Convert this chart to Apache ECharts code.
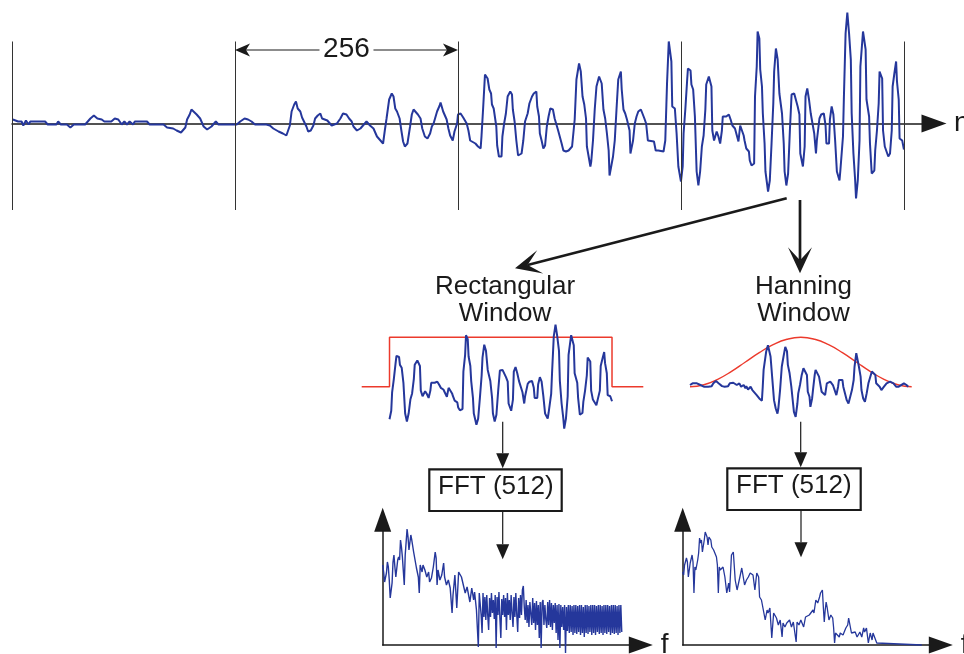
<!DOCTYPE html>
<html>
<head>
<meta charset="utf-8">
<script src="https://cdn.jsdelivr.net/npm/echarts@6/dist/echarts.min.js"></script>
<style>
  html, body { margin: 0; padding: 0; background: #ffffff; }
  #chart { width: 964px; height: 654px; }
</style>
</head>
<body>
<div id="chart"></div>
<script>
// Frame boundaries of the 1024-sample record (256 samples per frame)
const frameEdges = [0, 256, 512, 768, 1024];
const frameLength = 256;
const analysedFrame = [768, 1024];

// Speech-like record x[n]: [sample index, amplitude]
const signal = [
  [1,0.04],[3,0.05],[7,0.02],[11,0.02],[13,-0.02],[16,0.03],[19,-0.01],[21,0.02],[38,0.02],[41,-0.01],
  [51,-0.01],[53,0.02],[56,-0.01],[63,-0.01],[67,-0.04],[71,-0.01],[84,-0.01],[90,0.05],[94,0.08],[98,0.05],
  [103,0.04],[106,0.02],[114,0.02],[118,0.05],[122,0.04],[126,-0.01],[129,0.02],[132,-0.01],[135,0.02],[139,-0.01],
  [141,0.02],[155,0.02],[158,-0.01],[174,-0.01],[178,-0.04],[185,-0.05],[189,-0.07],[194,-0.09],[199,-0.04],[201,0.04],
  [204,0.09],[206,0.14],[212,0.09],[216,0.05],[220,-0.03],[224,-0.06],[229,-0.03],[234,0.02],[237,-0.01],[254,-0.01],
  [256,-0.03],[258,-0.01],[262,0.02],[267,0.05],[271,0.04],[275,0.02],[279,-0.01],[292,-0.01],[296,-0.02],[300,-0.05],
  [306,-0.08],[311,-0.10],[315,-0.12],[317,-0.07],[319,-0.02],[321,0.12],[324,0.19],[326,0.22],[328,0.15],[331,0.12],
  [333,0.06],[335,0.05],[338,-0.03],[340,-0.08],[343,-0.07],[346,-0.02],[348,0.05],[351,0.08],[354,0.10],[356,0.05],
  [359,0.04],[362,0.03],[367,-0.02],[369,-0.03],[373,0.00],[377,0.05],[380,0.10],[384,0.09],[387,0.05],[390,0.02],
  [392,-0.03],[396,-0.07],[400,-0.05],[403,-0.02],[407,0.02],[411,-0.02],[415,-0.05],[419,-0.13],[423,-0.17],[426,-0.20],
  [428,-0.07],[430,0.05],[433,0.24],[436,0.30],[438,0.27],[440,0.15],[442,0.12],[445,0.05],[447,-0.07],[449,-0.18],
  [451,-0.23],[454,-0.20],[457,-0.03],[459,0.09],[461,0.14],[463,0.12],[466,0.09],[469,0.05],[471,-0.05],[474,-0.13],
  [477,-0.15],[480,-0.10],[482,-0.03],[484,0.00],[488,0.12],[491,0.18],[492,0.21],[495,0.12],[499,0.04],[501,-0.05],
  [503,-0.12],[506,-0.17],[508,-0.08],[511,0.00],[512,0.09],[515,0.10],[518,0.06],[520,0.04],[522,0.00],[524,-0.07],
  [526,-0.17],[528,-0.19],[532,-0.20],[535,-0.23],[538,-0.25],[539,-0.13],[541,0.17],[543,0.49],[546,0.45],[548,0.34],
  [550,0.30],[551,0.19],[553,0.15],[556,-0.03],[557,-0.22],[559,-0.33],[562,-0.33],[563,-0.13],[565,0.00],[567,0.10],
  [569,0.27],[572,0.32],[574,0.29],[575,0.14],[577,0.02],[579,-0.17],[581,-0.32],[583,-0.33],[585,-0.30],[587,-0.17],
  [589,0.02],[592,0.10],[594,0.20],[597,0.27],[599,0.30],[602,0.32],[603,0.17],[605,0.07],[606,-0.10],[608,-0.17],
  [610,-0.25],[612,-0.22],[614,-0.03],[616,0.07],[618,0.15],[621,0.14],[623,0.05],[625,0.05],[627,-0.07],[629,-0.08],
  [631,-0.20],[633,-0.27],[636,-0.28],[639,-0.27],[643,-0.23],[646,0.04],[648,0.44],[651,0.60],[653,0.52],[655,0.27],
  [657,0.19],[659,0.05],[660,-0.23],[664,-0.43],[665,-0.38],[667,-0.17],[669,0.14],[671,0.37],[674,0.47],[677,0.40],
  [679,0.14],[681,0.05],[683,-0.10],[685,-0.27],[686,-0.52],[688,-0.53],[690,-0.33],[692,-0.17],[694,0.14],[696,0.44],
  [699,0.52],[700,0.34],[702,0.14],[704,0.10],[706,0.04],[709,-0.07],[710,-0.30],[712,-0.30],[713,-0.17],[715,0.00],
  [717,0.07],[719,0.12],[722,0.14],[724,0.15],[726,0.05],[728,0.00],[730,-0.17],[732,-0.17],[737,-0.18],[739,-0.27],
  [742,-0.27],[744,-0.25],[748,-0.28],[750,-0.17],[752,0.40],[754,0.82],[757,0.62],[758,0.17],[761,0.15],[763,-0.10],
  [765,-0.43],[768,-0.58],[770,-0.43],[771,-0.10],[773,0.14],[775,0.42],[776,0.55],[779,0.53],[780,0.39],[782,0.34],
  [784,0.07],[786,-0.48],[788,-0.62],[790,-0.48],[792,-0.23],[794,-0.12],[796,0.14],[797,0.39],[800,0.47],[803,0.37],
  [804,-0.07],[805,-0.12],[806,-0.17],[809,-0.08],[811,-0.13],[813,-0.20],[815,-0.07],[816,0.07],[818,0.09],[820,0.07],
  [821,0.05],[823,0.09],[825,0.04],[827,-0.02],[829,0.00],[830,-0.05],[832,-0.07],[834,-0.18],[836,-0.02],[838,-0.02],
  [840,-0.12],[841,-0.17],[843,-0.25],[846,-0.28],[847,-0.37],[849,-0.42],[852,-0.40],[853,0.27],[855,0.57],[856,0.92],
  [858,0.85],[859,0.54],[861,0.37],[862,0.10],[864,-0.20],[865,-0.48],[868,-0.68],[870,-0.57],[872,-0.20],[874,0.20],
  [875,0.52],[877,0.75],[879,0.64],[881,0.30],[884,0.10],[886,-0.20],[887,-0.48],[889,-0.62],[891,-0.50],[893,-0.08],
  [895,0.29],[898,0.30],[900,0.32],[902,0.17],[904,0.09],[905,-0.30],[908,-0.43],[910,-0.23],[911,0.27],[913,0.35],
  [915,0.24],[917,0.10],[919,0.09],[921,-0.10],[923,-0.30],[924,-0.17],[927,0.05],[929,0.09],[932,0.10],[934,-0.02],
  [935,-0.20],[938,-0.20],[939,0.04],[941,0.17],[943,0.09],[945,-0.17],[947,-0.48],[950,-0.57],[951,-0.47],[954,-0.13],
  [955,0.24],[957,0.90],[959,1.11],[961,0.90],[963,0.64],[964,0.10],[966,-0.30],[968,-0.57],[969,-0.75],[971,-0.57],
  [973,-0.17],[974,0.57],[977,0.92],[980,0.74],[981,0.24],[984,0.07],[985,-0.20],[987,-0.50],[990,-0.47],[991,-0.27],
  [993,-0.07],[995,0.20],[996,0.52],[999,0.45],[1000,-0.07],[1002,-0.23],[1004,-0.25],[1006,-0.33],[1008,-0.30],[1010,-0.07],
  [1011,0.37],[1013,0.50],[1015,0.62],[1016,0.42],[1018,0.24],[1019,-0.15],[1022,-0.17],[1024,-0.26]
];

// Last frame after Hanning weighting: [sample index, amplitude]
const hannFrame = [
  [768,0.03],[771,0.06],[776,0.06],[780,0.03],[781,0.01],[784,0],[789,0],[793,0.01],[795,0.06],[798,0.10],
  [801,0.06],[805,0.01],[808,0],[812,0.01],[814,0.06],[818,0.07],[822,0.03],[825,0.06],[827,0],[830,0.03],
  [832,-0.03],[833,0.01],[835,-0.05],[838,0],[840,-0.06],[842,-0.09],[845,-0.15],[848,-0.21],[851,-0.25],[852,0],
  [853,0.30],[856,0.63],[858,0.74],[860,0.71],[861,0.54],[863,0.15],[865,-0.24],[867,-0.39],[869,-0.48],[870,-0.39],
  [872,-0.06],[874,0.36],[876,0.54],[878,0.71],[880,0.63],[881,0.39],[883,0.24],[885,0],[887,-0.30],[888,-0.45],
  [890,-0.54],[892,-0.30],[893,-0.12],[895,0.03],[897,0.21],[899,0.33],[901,0.30],[903,0.21],[904,-0.09],[906,-0.18],
  [907,-0.36],[909,-0.21],[910,-0.06],[912,0.21],[913,0.30],[915,0.27],[917,0.18],[918,0.15],[920,-0.09],[922,-0.12],
  [924,-0.15],[926,0.06],[928,0.09],[930,0.09],[932,0.06],[933,0.03],[935,0],[937,-0.15],[939,0],[940,0.12],
  [942,0.15],[944,0.12],[945,0],[947,-0.12],[949,-0.24],[951,-0.30],[953,-0.27],[955,-0.06],[957,0.12],[958,0.36],
  [960,0.60],[962,0.60],[963,0.36],[965,0.18],[966,-0.06],[968,-0.21],[970,-0.27],[972,-0.12],[974,0.06],[976,0.09],
  [978,0.27],[980,0.30],[982,0.21],[983,0.06],[987,0],[989,-0.06],[992,0],[995,0.06],[999,0.09],[1003,0.06],
  [1006,0],[1009,0],[1011,0.03],[1015,0.06],[1018,0.03],[1020,0]
];

// Window weights: rectangular (with flat surround) and Hanning at 16-sample steps
const rectWindow = [[736,0],[768,0],[768,1],[1024,1],[1024,0],[1060,0]];
const hannStep = 16;
const hannWindow = [0,0.04,0.15,0.31,0.50,0.69,0.85,0.96,1,0.96,0.85,0.69,0.50,0.31,0.15,0.04,0];

// Magnitude spectra (log level) per frequency bin
const rectSpectrumHead = [
  [0,0.80],[1,0.73],[2,0.63],[4,0.72],[5,0.83],[6,0.78],[7,0.65],[8,0.47],[10,0.62],[11,0.83],
  [12,0.90],[13,0.78],[14,0.68],[16,0.85],[17,0.88],[18,0.85],[19,1.05],[20,0.98],[21,0.88],[23,0.60],
  [24,0.90],[25,1.03],[26,1.16],[27,1.08],[28,0.95],[30,1.10],[31,1.05],[33,0.93],[34,0.92],[36,0.77],
  [38,0.68],[39,0.52],[40,0.80],[42,0.73],[43,0.80],[45,0.75],[47,0.68],[49,0.73],[50,0.63],[52,0.67],
  [54,0.78],[56,0.93],[57,0.87],[58,0.60],[59,0.75],[61,0.65],[63,0.70],[65,0.82],[66,0.68],[68,0.60],
  [70,0.65],[72,0.57],[74,0.32],[75,0.50],[77,0.70],[79,0.37],[81,0.73],[82,0.73],[84,0.68],[86,0.60],
  [88,0.52],[90,0.58],[91,0.53],[93,0.43],[95,0.57],[97,0.45],[98,0.53],[100,0.35],[102,-0.02],[103,0.52]
];
const rectTailStart = 104;
const rectSpectrumTail = [
  0.50,0.30,0.12,0.52,0.28,0.48,0.25,0.50,0.30,0.15,0.47,0.28,0.52,0.32,0.45,0.26,0.50,-0.03,0.48,0.30,
  0.53,0.27,0.07,0.46,0.30,0.50,0.28,0.47,0.15,0.52,0.30,0.45,0.25,0.50,0.32,0.18,0.48,0.28,0.52,0.30,
  0.13,0.47,0.27,0.50,0.30,0.55,0.59,0.38,0.25,0.45,0.22,0.40,0.18,0.43,0.45,0.20,0.47,0.22,0.42,0.15,
  0.44,0.20,0.40,0.07,0.43,-0.03,0.42,0.45,0.20,0.40,0.25,0.17,0.43,0.20,0.45,0.18,0.42,0.15,0.40,0.22,
  0.42,0.12,0.40,0.05,0.41,-0.03,0.40,0.18,0.38,0.15,0.40,-0.08,0.38,0.14,0.40,0.12,0.40,0.13,0.39,0.10,
  0.40,0.12,0.40,0.11,0.39,0.13,0.40,0.10,0.40,0.12,0.38,0.08,0.40,0.12,0.40,0.11,0.39,0.13,0.40,0.10,
  0.40,0.12,0.40,0.10,0.39,0.13,0.40,0.11,0.40,0.12,0.39,0.10,0.40,0.12,0.40,0.11,0.40,0.13,0.39,0.10,
  0.40,0.12,0.40,0.11,0.40,0.12,0.39,0.10,0.40,0.12,0.40,0.13
];
const hannSpectrum = [
  [0,0.73],[1,0.70],[2,0.80],[4,0.87],[5,0.83],[6,0.68],[7,0.67],[8,0.82],[10,0.90],[11,0.83],
  [12,0.52],[13,0.78],[14,0.75],[16,0.85],[17,0.92],[18,1.07],[19,1.02],[20,1.05],[21,0.93],[23,1.05],
  [24,1.13],[25,1.12],[26,1.08],[27,1.00],[28,1.08],[30,1.05],[31,0.98],[32,1.00],[33,0.95],[34,0.97],
  [36,0.88],[37,0.80],[38,0.52],[39,0.78],[40,0.75],[42,0.77],[43,0.78],[45,0.68],[47,0.52],[49,0.62],
  [50,0.53],[52,0.90],[54,0.93],[56,0.65],[58,0.55],[59,0.57],[61,0.68],[63,0.77],[65,0.75],[66,0.60],
  [68,0.65],[70,0.68],[72,0.72],[74,0.73],[75,0.70],[77,0.55],[79,0.72],[81,0.68],[82,0.48],[84,0.45],
  [86,0.35],[88,0.25],[90,0.35],[91,0.32],[93,0.37],[95,0.07],[97,0.32],[98,0.30],[100,0.27],[102,0.20],
  [104,0.25],[106,0.08],[107,0.22],[109,0.18],[111,0.22],[113,0.20],[114,0.25],[116,0.18],[118,0.23],[120,0.25],
  [121,0.03],[122,0.23],[124,0.20],[126,0.25],[128,0.27],[129,0.18],[131,0.28],[133,0.27],[135,0.30],[136,0.32],
  [139,0.35],[140,0.32],[142,0.45],[144,0.42],[146,0.48],[147,0.52],[149,0.55],[150,0.38],[151,0.23],[152,0.35],
  [153,0.43],[154,0.38],[156,0.25],[158,0.30],[160,0.27],[161,0.17],[162,0.02],[163,0.12],[165,0.13],[167,0.08],
  [168,0.12],[171,0.10],[172,0.08],[174,0.17],[176,0.20],[177,0.27],[178,0.25],[180,0.12],[182,0.10],[184,0.13],
  [186,0.08],[187,0.10],[189,0.13],[191,0.08],[193,0.17],[194,0.13],[196,0.17],[198,0.02],[200,0.12],[202,0.05],
  [203,0.12],[205,0.11],[207,0.02],[208,0],[255,0]
];

const BLUE = '#25379b';
const RED = '#ec3a2c';
const INK = '#1a1a1a';
const FONT = '"Liberation Sans", Arial, Helvetica, sans-serif';

const frame4 = signal.filter(p => p[0] >= analysedFrame[0] && p[0] <= analysedFrame[1]);
const rectSpectrum = rectSpectrumHead.concat(rectSpectrumTail.map((v, i) => [rectTailStart + i, v]));
const hannCurve = hannWindow.map((w, i) => [analysedFrame[0] + i * hannStep, w]);

// vertical extent helper: axis range giving a baseline at `base` px with `ppu` px per unit
function range(top, height, base, ppu) {
  return { min: -(top + height - base) / ppu, max: (base - top) / ppu };
}
const panelTop = 320, panelH = 110, panelBase = 386.7;
const sigR = range(panelTop, panelH, panelBase, 56);
const winR = range(panelTop, panelH, panelBase, 49.4);

function hiddenX(gridIndex, min, max) {
  return { type: 'value', gridIndex, min, max, show: false };
}
function hiddenY(gridIndex, r) {
  return { type: 'value', gridIndex, min: r.min, max: r.max, show: false };
}
const arrowLine = (size) => ({
  show: true, onZero: true,
  symbol: ['none', 'triangle'], symbolSize: size,
  lineStyle: { color: INK, width: 1.5 }
});
const axisName = { fontSize: 28, fontFamily: FONT, color: INK };

function spectrumX(gridIndex) {
  return {
    type: 'value', gridIndex, min: 0, max: 275.3,
    axisLine: arrowLine([17, 24]), axisTick: { show: false }, axisLabel: { show: false },
    splitLine: { show: false },
    name: 'f', nameLocation: 'end', nameGap: 20, nameTextStyle: axisName
  };
}
function spectrumY(gridIndex) {
  return {
    type: 'value', gridIndex, min: 0, max: 1.252,
    axisLine: arrowLine([17, 24]), axisTick: { show: false }, axisLabel: { show: false },
    splitLine: { show: false }
  };
}
const gridBase = { containLabel: false, outerBoundsMode: 'none' };

const option = {
  animation: false,
  backgroundColor: '#ffffff',
  grid: [
    Object.assign({ left: 12, top: 41.5, width: 922, height: 168.5 }, gridBase),
    Object.assign({ left: 361.7, top: panelTop, width: 281.6, height: panelH }, gridBase),
    Object.assign({ left: 690, top: panelTop, width: 221.7, height: panelH }, gridBase),
    Object.assign({ left: 382.7, top: 519.8, width: 258.1, height: 125.2 }, gridBase),
    Object.assign({ left: 682.7, top: 519.8, width: 258.1, height: 125.2 }, gridBase)
  ],
  xAxis: [
    {
      type: 'value', gridIndex: 0, min: 0, max: 1058.5,
      axisLine: arrowLine([18, 25]), axisTick: { show: false }, axisLabel: { show: false },
      splitLine: { show: false },
      name: 'n', nameLocation: 'end', nameGap: 20, nameTextStyle: axisName
    },
    hiddenX(1, 736, 1060),
    hiddenX(2, analysedFrame[0], analysedFrame[1]),
    spectrumX(3),
    spectrumX(4)
  ],
  yAxis: [
    { type: 'value', gridIndex: 0, min: -0.865, max: 0.82, show: false },
    hiddenY(1, sigR),
    hiddenY(1, winR),
    hiddenY(2, sigR),
    hiddenY(2, winR),
    spectrumY(3),
    spectrumY(4)
  ],
  series: [
    {
      type: 'line', xAxisIndex: 0, yAxisIndex: 0, data: signal,
      showSymbol: false, clip: false, z: 3,
      lineStyle: { color: BLUE, width: 2 },
      markLine: {
        silent: true, symbol: 'none', label: { show: false },
        lineStyle: { color: '#333333', width: 1, type: 'solid' },
        data: frameEdges.map(v => ({ xAxis: v }))
      }
    },
    {
      type: 'line', xAxisIndex: 1, yAxisIndex: 2, data: rectWindow,
      showSymbol: false, clip: false, z: 2,
      lineStyle: { color: RED, width: 1.5 }
    },
    {
      type: 'line', xAxisIndex: 1, yAxisIndex: 1, data: frame4,
      showSymbol: false, clip: false, z: 3,
      lineStyle: { color: BLUE, width: 2 }
    },
    {
      type: 'line', xAxisIndex: 2, yAxisIndex: 4, data: hannCurve, smooth: true,
      showSymbol: false, clip: false, z: 2,
      lineStyle: { color: RED, width: 1.4 }
    },
    {
      type: 'line', xAxisIndex: 2, yAxisIndex: 3, data: hannFrame,
      showSymbol: false, clip: false, z: 3,
      lineStyle: { color: BLUE, width: 2 }
    },
    {
      type: 'line', xAxisIndex: 3, yAxisIndex: 5, data: rectSpectrum,
      showSymbol: false, clip: false,
      lineStyle: { color: BLUE, width: 1.4 }
    },
    {
      type: 'line', xAxisIndex: 4, yAxisIndex: 6, data: hannSpectrum,
      showSymbol: false, clip: false,
      lineStyle: { color: BLUE, width: 1.3 }
    }
  ]
};

const chart = echarts.init(document.getElementById('chart'), null, { renderer: 'canvas' });
chart.setOption(option);

// ---- annotations: arrows, labels and FFT blocks ----
function arrowHead(from, tip, len, half, notch) {
  const dx = tip[0] - from[0], dy = tip[1] - from[1];
  const L = Math.hypot(dx, dy);
  const ux = dx / L, uy = dy / L, px = -uy, py = ux;
  return [
    tip,
    [tip[0] - len * ux + half * px, tip[1] - len * uy + half * py],
    [tip[0] - notch * ux, tip[1] - notch * uy],
    [tip[0] - len * ux - half * px, tip[1] - len * uy - half * py]
  ];
}
function arrow(from, tip, o) {
  const head = arrowHead(from, tip, o.len, o.half, o.notch);
  return [
    { type: 'line', silent: true, z: 10,
      shape: { x1: from[0], y1: from[1], x2: head[2][0], y2: head[2][1] },
      style: { stroke: INK, lineWidth: o.width } },
    { type: 'polygon', silent: true, z: 10, shape: { points: head }, style: { fill: INK } }
  ];
}
function label(text, x, y, size) {
  return { type: 'text', silent: true, z: 10, x, y,
    style: { text, fill: INK, font: size + 'px ' + FONT, align: 'center', verticalAlign: 'middle' } };
}
function block(x, y, w, h, text, tx, ty) {
  return [
    { type: 'rect', silent: true, z: 9, shape: { x, y, width: w, height: h },
      style: { fill: '#ffffff', stroke: INK, lineWidth: 2.2 } },
    label(text, tx, ty, 26)
  ];
}

const big = { len: 26, half: 12, notch: 13, width: 2.7 };
const thin = { len: 15, half: 6.5, notch: 15, width: 1.2 };
const dim = { len: 15, half: 6.5, notch: 11, width: 1.2 };

const xa = chart.convertToPixel({ xAxisIndex: 0 }, frameEdges[1]);
const xb = chart.convertToPixel({ xAxisIndex: 0 }, frameEdges[1] + frameLength);
const dimY = 50, mid = (xa + xb) / 2, halfText = 24 + 3;

const elements = [].concat(
  label(String(frameLength), mid, 49.6, 28),
  arrow([mid - halfText, dimY], [xa, dimY], dim),
  arrow([mid + halfText, dimY], [xb, dimY], dim),
  arrow([786.7, 198.3], [515, 268.3], big),
  arrow([800, 200], [800, 273.3], big),
  label('Rectangular', 505, 287, 26),
  label('Window', 505, 313.7, 26),
  label('Hanning', 803.5, 287, 26),
  label('Window', 803.5, 313.7, 26),
  arrow([502.7, 421.7], [502.7, 468.3], thin),
  arrow([800.7, 421.7], [800.7, 467.3], thin),
  block(429.3, 469.3, 132.4, 41.7, 'FFT (512)', 495.8, 487),
  block(727.3, 468.3, 133.4, 41.7, 'FFT (512)', 793.8, 486.3),
  arrow([502.7, 511], [502.7, 559.3], thin),
  arrow([801, 510], [801, 557.3], thin)
);
chart.setOption({ graphic: { elements } });
</script>
</body>
</html>
